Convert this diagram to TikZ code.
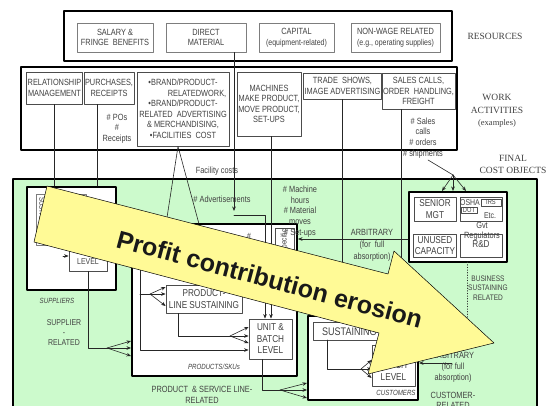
\documentclass[tikz,border=0pt]{standalone}
\usepackage{fontspec}
\setmainfont{Liberation Sans}
\newfontfamily\narrowsf[FakeStretch=0.82]{Liberation Sans}
\newfontfamily\labserif{Liberation Serif}
\usetikzlibrary{arrows.meta}
\definecolor{costgreen}{RGB}{204,250,204}
\definecolor{bannerfill}{RGB}{255,250,150}
\definecolor{boxgray}{RGB}{125,125,125}
\definecolor{txtgray}{RGB}{65,65,65}
\tikzset{
  thickbox/.style={draw=black, line width=2pt},
  groupbox/.style={draw=black, line width=2pt, fill=white, inner sep=0pt},
  graybox/.style={draw=boxgray, line width=0.8pt, fill=white, inner sep=1pt, align=center, text=txtgray, font=\narrowsf\fontsize{9}{10.5}\selectfont},
  actbox/.style={graybox, draw=black!70},
  levelbox/.style={draw=black!70, line width=0.8pt, fill=white, inner sep=1pt, align=center, text=txtgray, font=\narrowsf\fontsize{10}{11.5}\selectfont},
  tag/.style={align=center, text=txtgray, inner sep=0pt, font=\narrowsf\fontsize{9}{10.8}\selectfont},
  smalltag/.style={tag, font=\narrowsf\fontsize{8}{9.5}\selectfont},
  itag/.style={tag, font=\narrowsf\itshape\fontsize{7.5}{9}\selectfont},
  serlab/.style={align=center, text=black!75, inner sep=0pt, font=\labserif\fontsize{9.5}{12.5}\selectfont},
  conn/.style={line width=0.6pt, draw=black!85},
}
\begin{document}
\begin{tikzpicture}[line cap=round,line join=round,>={Stealth[length=4.5pt,width=3.6pt]},x=1pt,y=-1pt]
\useasboundingbox (0,0) rectangle (546,406);
\clip (0,0) rectangle (546,406);
% resources
\draw[thickbox] (64,11) rectangle (452,61);
\node[graybox, minimum width=76pt, minimum height=29pt] (salary) at (115,37.5) {SALARY \&\\FRINGE\ \ BENEFITS};
\node[graybox, minimum width=80pt, minimum height=29pt] (direct) at (206,37.5) {DIRECT\\MATERIAL};
\node[graybox, minimum width=75pt, minimum height=29pt] (capital) at (296.5,37.5) {CAPITAL\\{\fontsize{8.5}{10}\selectfont(equipment-related)}};
\node[graybox, minimum width=89pt, minimum height=29pt] (nonwage) at (395.5,37.5) {NON-WAGE RELATED\\{\fontsize{8.5}{10}\selectfont(e.g., operating supplies)}};
\node[serlab] (resources) at (495,36) {RESOURCES};
% work activities
\draw[thickbox, line width=2.2pt] (21,67) rectangle (457,150);
\node[actbox, minimum width=55pt, minimum height=32pt] (relation) at (54.5,88) {RELATIONSHIP\\MANAGEMENT};
\node[actbox, minimum width=46pt, minimum height=32pt] (purchase) at (109,88) {PURCHASES,\\RECEIPTS};
\node[actbox, minimum width=92pt, minimum height=74pt] (brand) at (183,109) {\textbullet BRAND/PRODUCT-\\\hspace*{28pt}RELATEDWORK,\\\textbullet BRAND/PRODUCT-\\RELATED\ \ ADVERTISING\\\&\ MERCHANDISING,\\\textbullet FACILITIES\ \ COST};
\node[actbox, minimum width=64pt, minimum height=64pt] (machines) at (269,104) {MACHINES\\MAKE PRODUCT,\\MOVE PRODUCT,\\SET-UPS};
\node[actbox, minimum width=77pt, minimum height=26pt] (trade) at (342.5,86) {TRADE\ \ SHOWS,\\IMAGE ADVERTISING};
\node[actbox, minimum width=69pt, minimum height=36pt] (sales) at (418.5,91) {SALES CALLS,\\ORDER\ \ HANDLING,\\FREIGHT};
\node[tag, font=\narrowsf\fontsize{9}{10.5}\selectfont] (podrv) at (117,128.5) {\# POs\\\#\\Receipts};
\node[tag, font=\narrowsf\fontsize{9}{10.7}\selectfont] (salesdrv) at (423,138) {\# Sales\\calls\\\# orders\\\# shipments};
\node[serlab] (work) at (497,111) {WORK\\ACTIVITIES\\{\fontsize{8.5}{10}\selectfont(examples)}};
\node[serlab] (final) at (513,164.5) {FINAL\\COST OBJECTS};
% final cost objects
\draw[thickbox, fill=costgreen] (13,179) rectangle (537,420);
\node[groupbox, minimum width=89pt, minimum height=103pt] (suppliers) at (71.5,238.5) {};
\node[groupbox, minimum width=165pt, minimum height=152pt] (products) at (214.5,300) {};
\node[groupbox, minimum width=110pt, minimum height=84pt] (customers) at (363,358) {};
\node[groupbox, minimum width=98pt, minimum height=70pt] (business) at (458,227) {};
% supplier level
\draw[draw=boxgray, line width=0.8pt] (36,194) rectangle (86,245);
\node[tag, rotate=-90, anchor=west, font=\narrowsf\fontsize{7.5}{9}\selectfont] (ssust) at (42,197) {SUSTAINING};
\node[levelbox, font=\narrowsf\fontsize{8.5}{10}\selectfont, minimum width=38pt, minimum height=39pt] (sbatch) at (88,251.5) {UNIT \&\\BATCH\\LEVEL};
\draw[conn,->] (63,256) -- (sbatch.west |- 0,256);
% product level
\node[draw=black!70, line width=0.7pt, fill=white, minimum width=19pt, minimum height=70pt] (pspec) at (284.5,263) {};
\node[tag, rotate=90, anchor=east, font=\narrowsf\fontsize{8}{9}\selectfont] (pspectxt) at (284.5,229.5) {Product-specific};
\node[levelbox, minimum width=76pt, minimum height=28pt, font=\narrowsf\fontsize{10}{12}\selectfont] (plsust) at (204,299) {PRODUCT-\\LINE SUSTAINING};
\node[levelbox, minimum width=43pt, minimum height=40pt] (pbatch) at (270.5,339) {UNIT \&\\BATCH\\LEVEL};
% customer level
\node[levelbox, minimum width=72pt, minimum height=18pt, anchor=north west, font=\narrowsf\fontsize{11}{12}\selectfont] (csust) at (313,322) {SUSTAINING};
\node[levelbox, minimum width=43pt, minimum height=41pt] (cbatch) at (393.5,365.5) {UNIT \&\\BATCH\\LEVEL};
% business level
\node[levelbox, minimum width=42pt, minimum height=24pt] (senior) at (435,209) {SENIOR\\MGT};
\node[draw=black!70, line width=0.8pt, minimum width=42pt, minimum height=24pt] (regul) at (481,209) {};
\node[tag, font=\narrowsf\fontsize{8.5}{9}\selectfont] (osha) at (470,202.5) {OSHA};
\node[draw=black!70, line width=0.6pt, inner sep=0.5pt, minimum width=20pt, minimum height=7pt, font=\narrowsf\fontsize{7}{7}\selectfont, text=txtgray] (irs) at (491,202.5) {IRS};
\node[draw=black!70, line width=0.6pt, inner sep=0.5pt, minimum width=16pt, minimum height=6pt, font=\narrowsf\fontsize{7}{7}\selectfont, text=txtgray] (dot) at (469,210) {DOT};
\node[tag, font=\narrowsf\fontsize{8.5}{9}\selectfont] (etc) at (490,216) {Etc.};
\node[levelbox, minimum width=42pt, minimum height=23pt] (unused) at (435,245.5) {UNUSED\\CAPACITY};
\node[draw=black!70, line width=0.8pt, minimum width=42pt, minimum height=23pt] (rnd) at (481,245.5) {};
\node[tag, font=\narrowsf\fontsize{10}{10}\selectfont] (rndtxt) at (481,244.5) {R\&D};
\node[tag, font=\narrowsf\fontsize{9}{10}\selectfont] (gvt) at (482,231) {Gvt\\Regulators};
% connectors from work activities
\draw[conn] (relation.south) -- (relation.south |- suppliers.north);
\draw[conn] ([xshift=-12pt]purchase.south) -- ([xshift=-12pt]purchase.south |- suppliers.north);
\draw[conn] (166,224) -- ([xshift=-5pt]brand.south) -- (199,224);
\draw[conn,->] ([xshift=28pt]direct.south) -- (234,211);
\draw[conn,->] (234,215) -- (265,215) -- (265,215 |- pbatch.north);
\draw[conn,->] ([xshift=2pt]machines.south) -- ([xshift=2pt]machines.south |- pbatch.north);
\draw[conn] (trade.south) -- (trade.south |- 0,300);
\draw[conn,->] ([xshift=-17.5pt]sales.south) -- ([xshift=-17.5pt]sales.south |- customers.north);
\coordinate (shipfork) at (453,175);
\draw[conn] (428,160) -- (shipfork);
\foreach \tx in {442,453,466} \draw[conn,->] (shipfork) -- (\tx,191);
\draw[conn,->] (business.west |- 0,239) -- (products.east |- 0,239);
\draw[conn, dotted] (467,262) -- (467,330);
\draw[conn,->] (452,363) -- (customers.east |- 0,363);
% supplier-related
\coordinate (supfork) at (107,348);
\draw[conn] (sbatch.south) -- (sbatch.south |- supfork) -- (supfork);
\foreach \ty in {341,348,356} \draw[conn,->] (supfork) -- (products.west |- 0,\ty);
% product line
\coordinate (plfork) at (150,294);
\draw[conn,->] (140,255) -- (140,350) -- (pbatch.west |- 0,350);
\draw[conn] (140,294) -- (plfork);
\foreach \ty in {287,294,306} \draw[conn,->] (plfork) -- (plsust.west |- 0,\ty);
\coordinate (pbfork) at (230,336);
\draw[conn] ([xshift=-26pt]plsust.south) -- ([xshift=-26pt]plsust.south |- pbfork) -- (pbfork);
\foreach \ty in {327,336,343} \draw[conn,->] (pbfork) -- (pbatch.west |- 0,\ty);
% customer-related
\coordinate (cufork) at (280,390);
\draw[conn] ([xshift=-8.5pt]pbatch.south) -- ([xshift=-8.5pt]pbatch.south |- cufork) -- (cufork);
\foreach \ty in {383,390,398} \draw[conn,->] (cufork) -- (customers.west |- 0,\ty);
\coordinate (cbfork) at (361,369);
\draw[conn] (327,340) -- (327,369) -- (cbfork);
\foreach \ty in {360,369,378} \draw[conn,->] (cbfork) -- (cbatch.west |- 0,\ty);
% driver texts
\node[tag] (facility) at (217,171) {Facility costs};
\node[tag] (adverts) at (222,199) {\# Advertisements};
\node[tag] (hash) at (249,236) {\#};
\node[tag] (machdrv) at (300,211.5) {\# Machine\\hours\\\# Material\\moves\\\# Set-ups};
\node[tag, font=\narrowsf\fontsize{9}{12}\selectfont] (arbup) at (372,245) {ARBITRARY\\(for\ \ full\\absorption)};
\node[tag] (shows) at (378,276) {\# Shows};
\node[smalltag] (busrel) at (488,288) {BUSINESS\\SUSTAINING\\RELATED};
\node[tag, font=\narrowsf\fontsize{9}{11}\selectfont] (arblow) at (453,367) {ARBITRARY\\(for full\\absorption)};
\node[tag, font=\narrowsf\fontsize{9}{10}\selectfont] (custrel) at (453,400) {CUSTOMER-\\RELATED};
\node[itag] (suplab) at (57,301) {SUPPLIERS};
\node[tag, font=\narrowsf\fontsize{8.5}{10}\selectfont] (suprel) at (64,333) {SUPPLIER\\-\\RELATED};
\node[itag] (prodlab) at (214,367) {PRODUCTS/SKUs};
\node[tag, font=\narrowsf\fontsize{9}{11}\selectfont] (prodrel) at (202,394.5) {PRODUCT\ \ \& SERVICE LINE-\\RELATED};
\node[itag] (custlab) at (396,393) {CUSTOMERS};
% banner
\draw[fill=bannerfill, line width=0.5pt] (47,186) -- (388,274) -- (394,251) -- (494,343) -- (368,374) -- (379,333) -- (34,242) -- cycle;
\node[rotate=-15, anchor=base west, inner sep=0pt, font=\bfseries\fontsize{25}{25}\selectfont, text=black!90] (erosion) at (115,247) {Profit contribution erosion};
\end{tikzpicture}
\end{document}
